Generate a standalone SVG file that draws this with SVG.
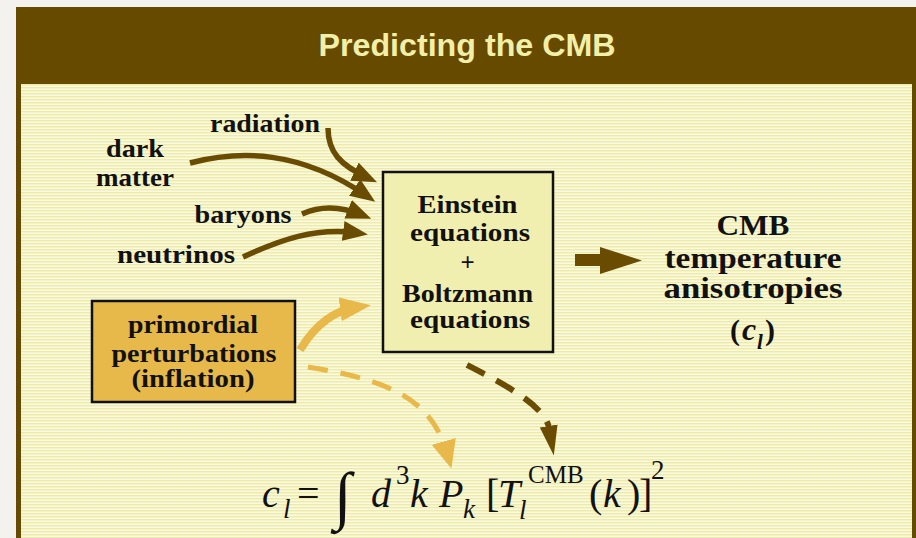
<svg xmlns="http://www.w3.org/2000/svg" width="916" height="538" viewBox="0 0 916 538">
<defs>
  <pattern id="stripes" patternUnits="userSpaceOnUse" width="8" height="3">
    <rect width="8" height="3" fill="#faf9e2"/>
    <rect y="0" width="8" height="1.4" fill="#eeeba6"/>
  </pattern>
  <marker id="ah-brown" markerUnits="userSpaceOnUse" markerWidth="26" markerHeight="20" refX="15" refY="10" orient="auto">
    <path d="M0,0 L25,10 L0,20 z" fill="#6a4c00"/>
  </marker>
  <marker id="ah-gold" markerUnits="userSpaceOnUse" markerWidth="32" markerHeight="24" refX="18" refY="12" orient="auto">
    <path d="M0,0 L31,12 L0,24 z" fill="#e8b84a"/>
  </marker>
  <marker id="ah-gold-d" markerUnits="userSpaceOnUse" markerWidth="30" markerHeight="26" refX="12" refY="12.5" orient="auto">
    <path d="M0,0 L28,12.5 L0,25 z" fill="#e8b84a"/>
  </marker>
  <marker id="ah-brown-d" markerUnits="userSpaceOnUse" markerWidth="32" markerHeight="20" refX="2" refY="9" orient="auto">
    <path d="M0,0 L30,9 L0,18 z" fill="#6a4c00"/>
  </marker>
  <style>
    .lbl { font-family: "Liberation Serif", "DejaVu Serif", serif; font-weight: bold; font-size: 25px; fill: #111; text-anchor: middle; }
    .big { font-family: "Liberation Serif", "DejaVu Serif", serif; font-weight: bold; font-size: 29px; fill: #111; text-anchor: middle; }
    .bigs { font-family: "Liberation Serif", "DejaVu Serif", serif; font-weight: bold; font-size: 30px; fill: #111; }
    .box { stroke: #111; stroke-width: 2.5; }
    .conn { fill: none; stroke-linecap: butt; }
    .brown { stroke: #6a4c00; }
    .gold { stroke: #e8b84a; }
    .math { font-family: "Liberation Serif", "DejaVu Serif", serif; font-size: 40px; fill: #111; }
    .it { font-style: italic; }
    .sub { font-size: 27px; }
    .sup { font-size: 27px; }
  </style>
</defs>

<!-- outer background -->
<rect width="916" height="538" fill="#f3f2ee"/>

<!-- panel -->
<g id="panel">
  <rect x="16" y="7" width="900" height="531" fill="#664a00"/>
  <rect x="21" y="84" width="891" height="454" fill="url(#stripes)"/>
</g>

<g id="title">
  <text x="467" y="56" font-family="'Liberation Sans', Arial, sans-serif" font-weight="bold" font-size="31" fill="#f2f0a8" text-anchor="middle" textLength="297" lengthAdjust="spacingAndGlyphs">Predicting the CMB</text>
</g>

<g id="connectors">
  <path class="conn brown" stroke-width="5.5" d="M328,128 C328,152 340,165 368,178" marker-end="url(#ah-brown)"/>
  <path class="conn brown" stroke-width="5.5" d="M190,163 C240,150 300,150 367,196" marker-end="url(#ah-brown)"/>
  <path class="conn brown" stroke-width="5.5" d="M302,214 C320,206 340,206 362,215" marker-end="url(#ah-brown)"/>
  <path class="conn brown" stroke-width="5.5" d="M243,257 C280,240 315,227 358,233" marker-end="url(#ah-brown)"/>
  <path class="conn gold" stroke-width="8" d="M300,350 C315,325 335,310 358,307" marker-end="url(#ah-gold)"/>
  <path class="conn gold" stroke-width="5" stroke-dasharray="20 13" d="M308,367 C390,380 432,400 447,453" marker-end="url(#ah-gold-d)"/>
  <path class="conn brown" stroke-width="6" stroke-dasharray="20 13" d="M467,365 C500,382 545,405 549,428" marker-end="url(#ah-brown-d)"/>
  <polygon points="575,254 600,254 600,247 642,260.5 600,274 600,266 575,266" fill="#6a4c00"/>
</g>

<g id="node-radiation">
  <text class="lbl" x="265" y="132" textLength="110" lengthAdjust="spacingAndGlyphs">radiation</text>
</g>
<g id="node-dark-matter">
  <text class="lbl" x="135" y="157" textLength="58" lengthAdjust="spacingAndGlyphs">dark</text>
  <text class="lbl" x="135" y="186" textLength="78" lengthAdjust="spacingAndGlyphs">matter</text>
</g>
<g id="node-baryons">
  <text class="lbl" x="243" y="223" textLength="97" lengthAdjust="spacingAndGlyphs">baryons</text>
</g>
<g id="node-neutrinos">
  <text class="lbl" x="176" y="263" textLength="118" lengthAdjust="spacingAndGlyphs">neutrinos</text>
</g>

<g id="node-equations">
  <rect class="box" x="383" y="172" width="170" height="180" fill="#f1efb0"/>
  <text class="lbl" x="467.5" y="213" textLength="100" lengthAdjust="spacingAndGlyphs">Einstein</text>
  <text class="lbl" x="470" y="241" textLength="120" lengthAdjust="spacingAndGlyphs">equations</text>
  <text class="lbl" x="467.5" y="271">+</text>
  <text class="lbl" x="467.5" y="302" textLength="131" lengthAdjust="spacingAndGlyphs">Boltzmann</text>
  <text class="lbl" x="470" y="328" textLength="120" lengthAdjust="spacingAndGlyphs">equations</text>
</g>

<g id="node-primordial">
  <rect class="box" x="92" y="301" width="203" height="101" fill="#e6b94a"/>
  <text class="lbl" x="193" y="333" textLength="130" lengthAdjust="spacingAndGlyphs">primordial</text>
  <text class="lbl" x="194" y="362" textLength="165" lengthAdjust="spacingAndGlyphs">perturbations</text>
  <text class="lbl" x="193" y="387" textLength="123" lengthAdjust="spacingAndGlyphs">(inflation)</text>
</g>

<g id="node-cmb">
  <text class="big" x="753" y="235" textLength="73" lengthAdjust="spacingAndGlyphs">CMB</text>
  <text class="big" x="753" y="268" textLength="177" lengthAdjust="spacingAndGlyphs">temperature</text>
  <text class="big" x="753" y="298" textLength="179" lengthAdjust="spacingAndGlyphs">anisotropies</text>
  <text class="bigs" x="730" y="340">(</text>
  <text class="bigs" x="742" y="340" style="font-style:italic;font-size:32px">c</text>
  <text class="bigs" x="757" y="349" style="font-style:italic;font-size:21px">l</text>
  <text class="bigs" x="765" y="340">)</text>
</g>

<g id="node-formula">
  <text class="math it" x="262" y="507">c</text>
  <text class="math it sub" x="283" y="518">l</text>
  <text class="math" x="297" y="507">=</text>
  <text class="math" x="334" y="517" style="font-size:64px">∫</text>
  <text class="math it" x="371" y="507">d</text>
  <text class="math sup" x="396" y="484">3</text>
  <text class="math it" x="410" y="507">k</text>
  <text class="math it" x="439" y="507">P</text>
  <text class="math it sub" x="463" y="518">k</text>
  <text class="math" x="486" y="507">[</text>
  <text class="math it" x="498" y="507">T</text>
  <text class="math it sub" x="519" y="519">l</text>
  <text class="math" x="528" y="483" style="font-size:25px">CMB</text>
  <text class="math" x="589" y="507">(</text>
  <text class="math it" x="603" y="507">k</text>
  <text class="math" x="627" y="507">)</text>
  <text class="math" x="639" y="507">]</text>
  <text class="math sup" x="651" y="479">2</text>
</g>
</svg>
